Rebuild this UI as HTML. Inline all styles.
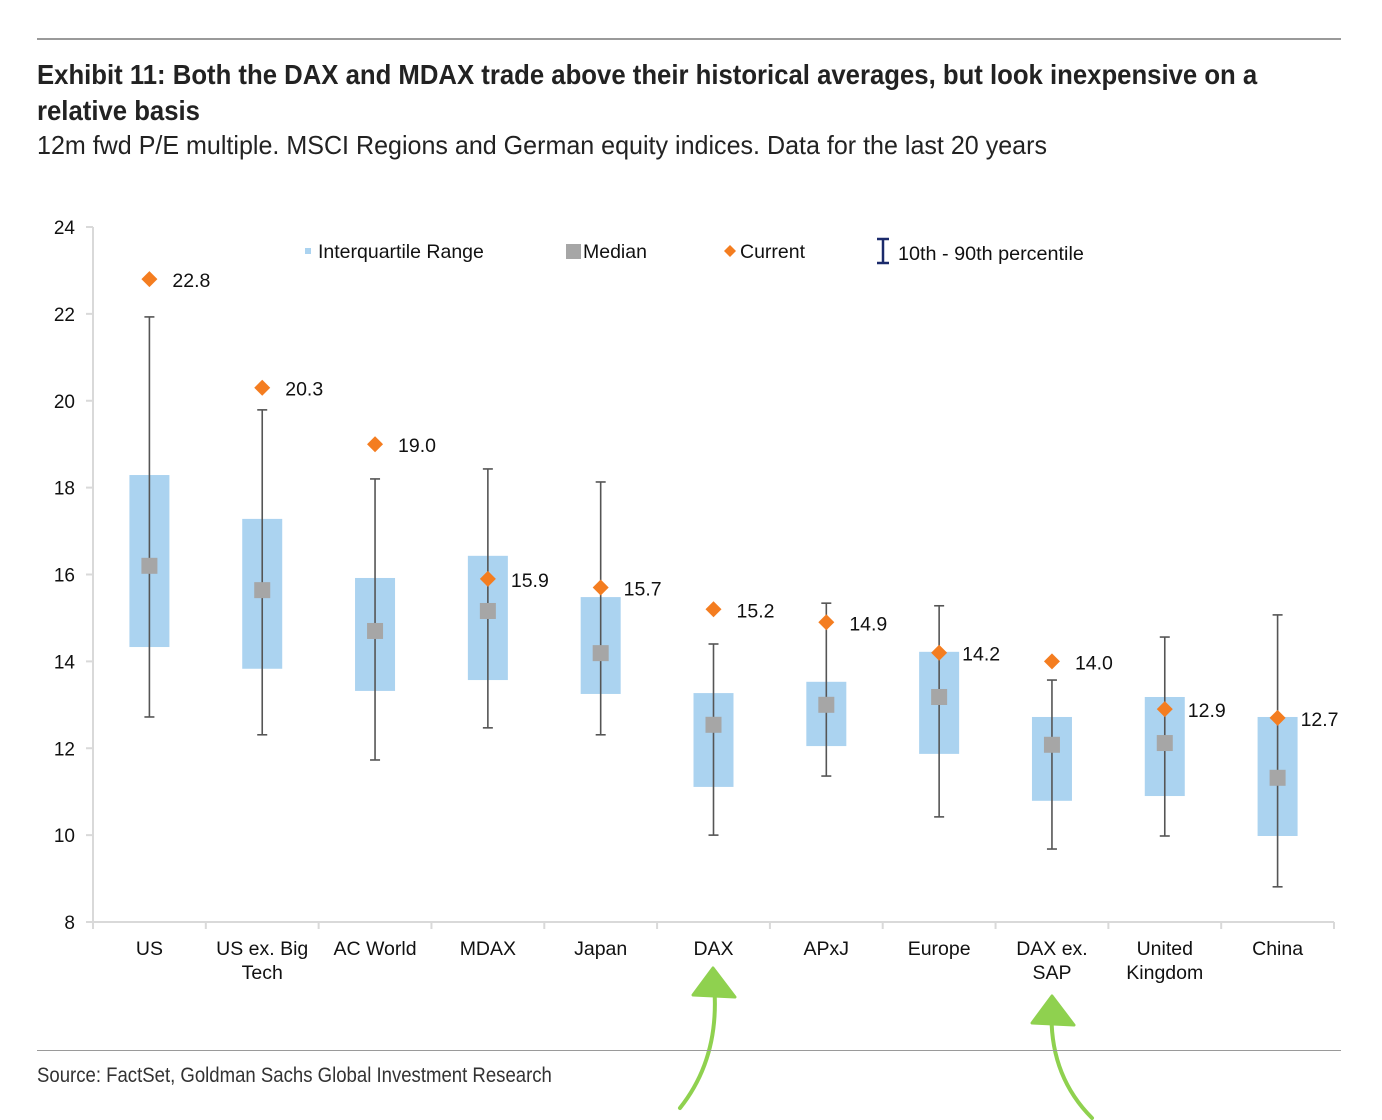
<!DOCTYPE html>
<html><head><meta charset="utf-8"><style>
body{margin:0;width:1382px;height:1120px;background:#fff;overflow:hidden;font-family:"Liberation Sans",Arial,sans-serif;}
.abs{position:absolute;}
</style></head><body>
<div class="abs" style="left:37px;top:38px;width:1304px;height:2px;background:#9a9a9a"></div>
<div class="abs" style="left:37px;top:57px;white-space:nowrap;font-family:'Liberation Sans Narrow','Liberation Sans',sans-serif;font-weight:bold;font-size:27.5px;line-height:36px;color:#222;transform:scaleX(0.935);transform-origin:left">Exhibit 11: Both the DAX and MDAX trade above their historical averages, but look inexpensive on a<br>relative basis</div>
<div class="abs" style="left:37px;top:130px;font-family:'Liberation Sans Narrow','Liberation Sans',sans-serif;font-size:26px;color:#222;white-space:nowrap;transform:scaleX(0.964);transform-origin:left">12m fwd P/E multiple. MSCI Regions and German equity indices. Data for the last 20 years</div>
<svg class="abs" style="left:0;top:0" width="1382" height="1120" id="chart" font-family="Liberation Sans, Arial, sans-serif"></svg>
<div class="abs" style="left:37px;top:1050px;width:1304px;height:1px;background:#9a9a9a"></div>
<div class="abs" style="left:37px;top:1064px;font-family:'Liberation Sans Narrow','Liberation Sans',sans-serif;font-size:21px;color:#333;white-space:nowrap;transform:scaleX(0.884);transform-origin:left">Source: FactSet, Goldman Sachs Global Investment Research</div>
<script>
const categories=[["US"],["US ex. Big","Tech"],["AC World"],["MDAX"],["Japan"],["DAX"],["APxJ"],["Europe"],["DAX ex.","SAP"],["United","Kingdom"],["China"]];
const p90=[21.93,19.79,18.2,18.43,18.13,14.4,15.34,15.28,13.57,14.56,15.07];
const p10=[12.72,12.31,11.73,12.47,12.31,10.0,11.36,10.42,9.68,9.98,8.81];
const q3=[18.29,17.28,15.92,16.43,15.48,13.27,13.53,14.22,12.72,13.18,12.72];
const q1=[14.33,13.83,13.32,13.57,13.25,11.11,12.05,11.87,10.79,10.9,9.98];
const median=[16.2,15.64,14.7,15.16,14.19,12.54,13.0,13.18,12.08,12.12,11.32];
const current=[22.8,20.3,19.0,15.9,15.7,15.2,14.9,14.2,14.0,12.9,12.7];
const yTicks=[8,10,12,14,16,18,20,22,24];
const NS="http://www.w3.org/2000/svg";
const svg=document.getElementById('chart');
const X0=93,X1=1334,Y0=922,Y1=227,ymin=8,ymax=24;
const step=(X1-X0)/categories.length;
const y=v=>Y0-(v-ymin)/(ymax-ymin)*(Y0-Y1);
const x=i=>X0+step*(i+0.5);
function mk(tag,attrs,name,inter){const e=document.createElementNS(NS,tag);for(const k in attrs)e.setAttribute(k,attrs[k]);


svg.appendChild(e);return e;}
mk('line',{x1:X0,y1:Y1,x2:X0,y2:Y0,stroke:'#d9d9d9','stroke-width':2},'y-axis');
mk('line',{x1:X0,y1:Y0,x2:X1,y2:Y0,stroke:'#d9d9d9','stroke-width':2},'x-axis');
yTicks.forEach(t=>{mk('line',{x1:X0-7,y1:y(t),x2:X0,y2:y(t),stroke:'#d9d9d9','stroke-width':2},'y-tick');
const tx=mk('text',{x:75,y:y(t)+7,'text-anchor':'end','font-size':19,fill:'#111'},'y-tick-label');tx.textContent=t;});
for(let i=0;i<=categories.length;i++)mk('line',{x1:X0+step*i,y1:Y0,x2:X0+step*i,y2:Y0+7,stroke:'#d9d9d9','stroke-width':2},'x-tick');
categories.forEach((c,i)=>{c.forEach((l,j)=>{const t=mk('text',{x:x(i),y:955+j*24,'text-anchor':'middle','font-size':19.5,fill:'#111'},'x-tick-label');t.textContent=l;});
mk('rect',{x:x(i)-20,y:y(q3[i]),width:40,height:y(q1[i])-y(q3[i]),fill:'#abd3f0'},'iqr-box');
mk('line',{x1:x(i),y1:y(p90[i]),x2:x(i),y2:y(p10[i]),stroke:'#555','stroke-width':1.6},'whisker');
mk('line',{x1:x(i)-5,y1:y(p90[i]),x2:x(i)+5,y2:y(p90[i]),stroke:'#555','stroke-width':1.6},'whisker-cap-top');
mk('line',{x1:x(i)-5,y1:y(p10[i]),x2:x(i)+5,y2:y(p10[i]),stroke:'#555','stroke-width':1.6},'whisker-cap-bottom');
mk('rect',{x:x(i)-8,y:y(median[i])-8,width:16,height:16,fill:'#a6a6a6'},'median-marker');
const cy=y(current[i]);
mk('polygon',{points:`${x(i)},${cy-8} ${x(i)+8},${cy} ${x(i)},${cy+8} ${x(i)-8},${cy}`,fill:'#f47d20'},'current-marker');
const lt=mk('text',{x:x(i)+23,y:cy+8,'font-size':19.5,fill:'#111'},'current-label');lt.textContent=current[i].toFixed(1);});
mk('rect',{x:305,y:248,width:6,height:6,fill:'#abd3f0'},'legend-iqr-swatch');
let t=mk('text',{x:318,y:258,'font-size':19.5,fill:'#111'},'legend-iqr');t.textContent='Interquartile Range';
mk('rect',{x:566,y:244,width:15,height:15,fill:'#a6a6a6'},'legend-median-swatch');
t=mk('text',{x:583,y:258,'font-size':19.5,fill:'#111'},'legend-median');t.textContent='Median';
mk('polygon',{points:'730,245 736,251 730,257 724,251',fill:'#f47d20'},'legend-current-swatch');
t=mk('text',{x:740,y:258,'font-size':19.5,fill:'#111'},'legend-current');t.textContent='Current';
mk('path',{d:'M877 239H889M883 239V263M877 263H889',stroke:'#1b2a6b','stroke-width':2.5,fill:'none'},'legend-percentile-swatch');
t=mk('text',{x:898,y:260,'font-size':19.8,fill:'#111'},'legend-percentile');t.textContent='10th - 90th percentile';
[[713,1000,680,1108],[1052,1028,1092,1118]].forEach(a=>{
mk('path',{d:`M${a[2]} ${a[3]} Q${a[0]+(a[2]<a[0]?10:-5)} ${(a[1]+a[3])/2} ${a[0]} ${a[1]-25}`,stroke:'#8fd14f','stroke-width':4,fill:'none','stroke-linecap':'round'},'annotation-arrow');
mk('path',{d:`M${a[0]-20} ${a[1]-5} L${a[0]} ${a[1]-32} L${a[0]+22} ${a[1]-3} Z`,fill:'#8fd14f',stroke:'#8fd14f','stroke-width':3,'stroke-linejoin':'round'},'annotation-arrowhead');});
</script>
</body></html>
